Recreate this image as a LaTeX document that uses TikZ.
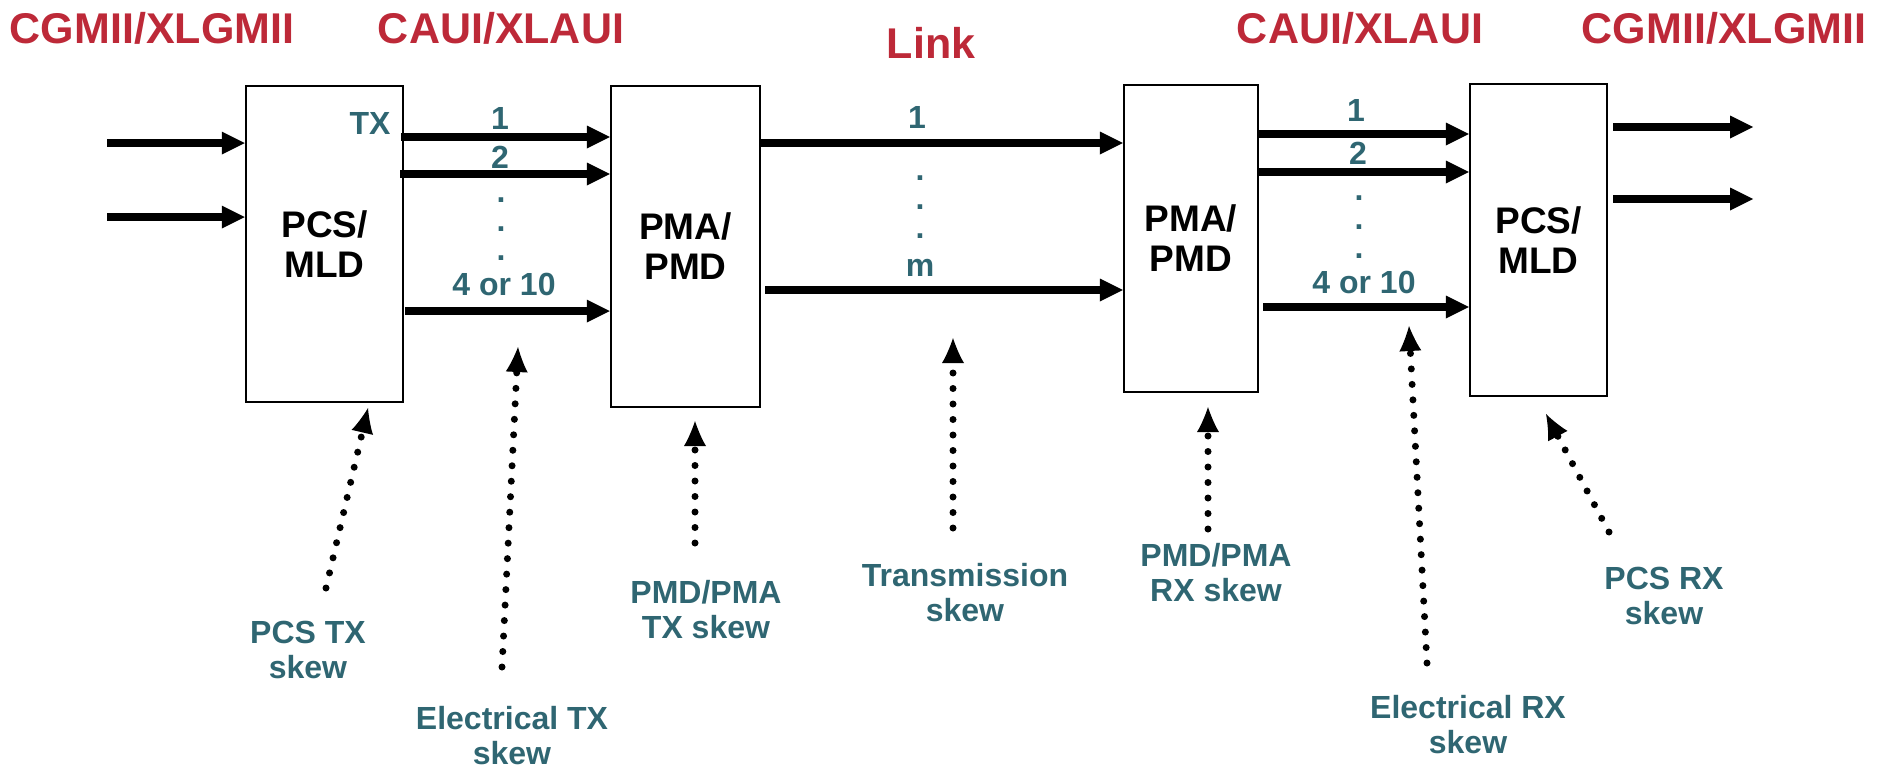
\documentclass[tikz,border=0pt]{standalone}
\usepackage{fontspec}
\setmainfont{Liberation Sans}
\usetikzlibrary{arrows.meta}
\definecolor{tred}{RGB}{189,41,56}
\definecolor{tteal}{RGB}{47,102,114}
\begin{document}
\begin{tikzpicture}[x=1pt,y=-1pt,
 box/.style={draw, line width=2.5pt, inner sep=0pt, font=\fontsize{37}{40}\selectfont\bfseries, align=center},
 title/.style={text=tred, font=\fontsize{43}{50}\selectfont\bfseries, anchor=base, inner sep=0pt},
 lbl/.style={text=tteal, font=\fontsize{32}{35}\selectfont\bfseries, inner sep=0pt, align=center},
 dots/.style={text=tteal, font=\fontsize{32}{29}\selectfont\bfseries, inner sep=0pt, align=center},
 bigarrow/.style={line width=7.5pt, -{Triangle[length=23pt,width=23pt,line width=0pt]}},
 skewarrow/.style={line width=7pt, line cap=round, dash pattern=on 0pt off 15.5pt, -{Latex[length=25pt,width=22pt,line width=0pt]}},
]
\useasboundingbox (0,0) rectangle (1887,771);

% titles
\node[title] (t1) at (152,43) {CGMII/XLGMII};
\node[title] (t2) at (501,43) {CAUI/XLAUI};
\node[title] (t3) at (931,58) {Link};
\node[title] (t4) at (1360,43) {CAUI/XLAUI};
\node[title] (t5) at (1724,43) {CGMII/XLGMII};

% boxes
\node[box, minimum width=157pt, minimum height=316pt] (pcs1) at (324.5,244) {PCS/\\MLD};
\node[box, minimum width=149pt, minimum height=321pt] (pma1) at (685.5,246.5) {PMA/\\PMD};
\node[box, minimum width=134pt, minimum height=307pt] (pma2) at (1191,238.5) {PMA/\\PMD};
\node[box, minimum width=137pt, minimum height=312pt] (pcs2) at (1538.5,240) {PCS/\\MLD};

% inputs
\coordinate (in1) at (107,143);
\coordinate (in2) at (107,217);
\draw[bigarrow] (in1) -- (in1 -| pcs1.west);
\draw[bigarrow] (in2) -- (in2 -| pcs1.west);

% TX lanes
\coordinate (a1) at (401,137);
\coordinate (a2) at (400,174);
\coordinate (a3) at (405,311);
\draw[bigarrow] (a1) -- (a1 -| pma1.west);
\draw[bigarrow] (a2) -- (a2 -| pma1.west);
\draw[bigarrow] (a3) -- (a3 -| pma1.west);
\node[lbl] (tx) at (370,123) {TX};
\node[lbl] (la1) at (500,118) {1};
\node[lbl] (la2) at (500,157) {2};
\node[dots] (lad) at (501,229) {.\\.\\.};
\node[lbl] (la4) at (504,284) {4 or 10};

% link lanes
\coordinate (b1) at (760,143);
\coordinate (b2) at (765,290);
\draw[bigarrow] (b1) -- (b1 -| pma2.west);
\draw[bigarrow] (b2) -- (b2 -| pma2.west);
\node[lbl] (lb1) at (917,117) {1};
\node[dots] (lbd) at (920,207) {.\\.\\.};
\node[lbl] (lbm) at (920,268) {m};

% RX lanes
\coordinate (c1) at (1258,134);
\coordinate (c2) at (1258,172);
\coordinate (c3) at (1263,307);
\draw[bigarrow] (c1) -- (c1 -| pcs2.west);
\draw[bigarrow] (c2) -- (c2 -| pcs2.west);
\draw[bigarrow] (c3) -- (c3 -| pcs2.west);
\node[lbl] (lc1) at (1356,110) {1};
\node[lbl] (lc2) at (1358,153) {2};
\node[dots] (lcd) at (1359,227) {.\\.\\.};
\node[lbl] (lc4) at (1364,282) {4 or 10};

% outputs
\coordinate (o1) at (1613,127);
\coordinate (o2) at (1613,199);
\coordinate (oe1) at (1753,127);
\coordinate (oe2) at (1753,199);
\draw[bigarrow] (o1) -- (oe1);
\draw[bigarrow] (o2) -- (oe2);

% skew labels
\node[lbl] (s1) at (308,650) {PCS TX\\skew};
\node[lbl] (s2) at (512,736) {Electrical TX\\skew};
\node[lbl] (s3) at (706,610) {PMD/PMA\\TX skew};
\node[lbl] (s4) at (965,593) {Transmission\\skew};
\node[lbl] (s5) at (1216,573) {PMD/PMA\\RX skew};
\node[lbl] (s6) at (1468,725) {Electrical RX\\skew};
\node[lbl] (s7) at (1664,596) {PCS RX\\skew};

% skew arrows
\coordinate (d1s) at (326,588); \coordinate (d1e) at (368,408);
\coordinate (d2s) at (502,667); \coordinate (d2e) at (518,347);
\coordinate (d3s) at (695,543); \coordinate (d3e) at (695,421);
\coordinate (d4s) at (953,528); \coordinate (d4e) at (953,338);
\coordinate (d5s) at (1208,529); \coordinate (d5e) at (1208,407);
\coordinate (d6s) at (1427,663); \coordinate (d6e) at (1409,326);
\coordinate (d7s) at (1609,532); \coordinate (d7e) at (1546,414);
\draw[skewarrow] (d1s) -- (d1e);
\draw[skewarrow] (d2s) -- (d2e);
\draw[skewarrow] (d3s) -- (d3e);
\draw[skewarrow] (d4s) -- (d4e);
\draw[skewarrow] (d5s) -- (d5e);
\draw[skewarrow] (d6s) -- (d6e);
\draw[skewarrow] (d7s) -- (d7e);
\end{tikzpicture}
\end{document}
